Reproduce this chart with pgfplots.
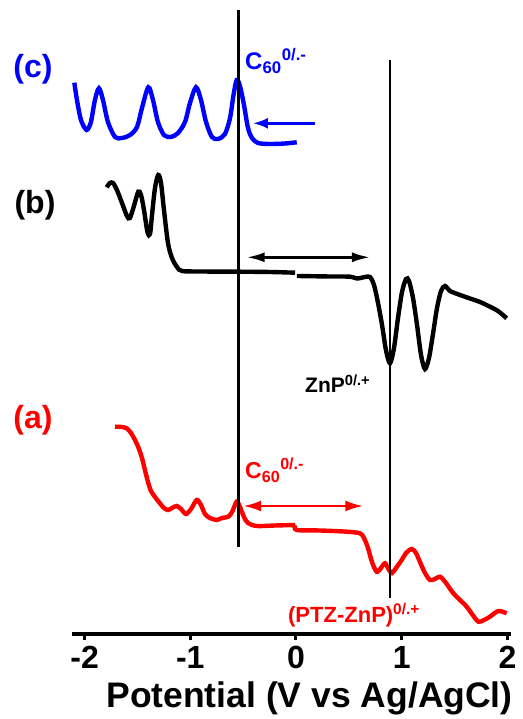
\documentclass[border=0pt]{standalone}
\usepackage{pgfplots}
\pgfplotsset{compat=1.18}
\usepackage{fontspec}
\setmainfont{Liberation Sans}
\usetikzlibrary{arrows.meta}
\definecolor{cblue}{RGB}{0,0,255}
\definecolor{cred}{RGB}{255,0,0}
\begin{document}
\begin{tikzpicture}
\useasboundingbox (-72pt,-85pt) rectangle (450pt,634pt);
\begin{axis}[
  at={(0pt,0pt)}, anchor=south west,
  width=439pt, height=634pt, scale only axis,
  xmin=-2.119, xmax=2.034, ymin=-634, ymax=0,
  axis x line*=bottom, axis y line=none,
  axis line style={line width=3pt},
  xtick={-2,-1,0,1,2}, xticklabels={-2,-1,0,1,2},
  tick align=outside, major tick length=6pt,
  xtick style={line width=3pt, black},
  xticklabel style={font=\fontsize{32}{34}\selectfont\bfseries, inner sep=0pt, yshift=-6pt},
  xlabel={Potential (V vs Ag/AgCl)},
  xlabel style={font=\fontsize{35.5}{38}\selectfont\bfseries, xshift=18pt, yshift=-13pt, inner sep=0pt},
  clip=false,
]
% (c)
\addplot[cblue, line width=4.4pt, smooth, tension=0.5] coordinates {
(-2.097,-82.7) (-2.072,-100) (-2.034,-120) (-1.981,-130) (-1.940,-122) (-1.902,-100)
(-1.864,-88.3) (-1.826,-100) (-1.779,-122) (-1.712,-137) (-1.646,-138) (-1.570,-135)
(-1.504,-127) (-1.457,-108) (-1.397,-87.3) (-1.353,-100) (-1.306,-122) (-1.249,-135)
(-1.183,-137) (-1.116,-133) (-1.050,-122) (-1.003,-103) (-0.946,-87.3) (-0.899,-100)
(-0.851,-122) (-0.795,-137) (-0.738,-139) (-0.672,-134) (-0.624,-118) (-0.591,-95)
(-0.561,-80) (-0.530,-86) (-0.492,-105) (-0.454,-128) (-0.416,-138) (-0.360,-143)
(-0.246,-144) (-0.104,-143.5) (0.007,-142.3)
};
% (b)
\addplot[black, line width=4.4pt, smooth, tension=0.5] coordinates {
(-1.791,-187.3) (-1.760,-183) (-1.731,-183) (-1.694,-190) (-1.646,-203) (-1.599,-216)
(-1.571,-218) (-1.533,-206) (-1.492,-191.7) (-1.466,-195) (-1.438,-210) (-1.405,-232)
(-1.381,-234) (-1.362,-215) (-1.334,-188) (-1.303,-175) (-1.277,-183) (-1.249,-210)
(-1.211,-243) (-1.173,-258) (-1.126,-267) (-1.079,-271) (-0.908,-271.5) (-0.530,-271.7)
(-0.246,-272) (-0.009,-272.7)
};
\addplot[black, line width=4.4pt, smooth, tension=0.5] coordinates {
(0.009,-276) (0.322,-276.5) (0.511,-276.7) (0.577,-278.5) (0.653,-277) (0.700,-277)
(0.738,-285) (0.776,-303) (0.814,-325) (0.851,-350) (0.889,-363.3) (0.927,-348)
(0.965,-318) (1.003,-292) (1.041,-279) (1.069,-281) (1.107,-298) (1.145,-325)
(1.183,-355) (1.220,-369) (1.258,-358) (1.296,-334) (1.334,-308) (1.372,-291)
(1.410,-286) (1.457,-291) (1.552,-295) (1.646,-298.5) (1.741,-302) (1.835,-306.7)
(1.911,-311) (1.993,-318.3)
};
% (a)
\addplot[cred, line width=4.4pt, smooth, tension=0.5] coordinates {
(-1.712,-426.7) (-1.646,-427) (-1.599,-428.5) (-1.561,-433) (-1.523,-440) (-1.485,-449)
(-1.457,-458) (-1.429,-470) (-1.400,-482) (-1.372,-491) (-1.334,-497) (-1.287,-503.3)
(-1.249,-508) (-1.211,-510) (-1.173,-508) (-1.129,-506) (-1.088,-509) (-1.041,-514)
(-0.993,-509) (-0.939,-500) (-0.899,-505) (-0.861,-514) (-0.814,-518) (-0.750,-520)
(-0.700,-518) (-0.640,-516.7) (-0.605,-512) (-0.561,-501.7) (-0.530,-507) (-0.492,-517)
(-0.454,-523) (-0.372,-526) (-0.199,-525.5) (-0.009,-525)
};
\addplot[cred, line width=4.4pt, smooth, tension=0.5] coordinates {
(-0.009,-525) (0.007,-530) (0.227,-530.5) (0.480,-531.7) (0.605,-533.3) (0.643,-538)
(0.681,-548) (0.719,-562) (0.763,-571.7) (0.804,-568) (0.842,-563.3) (0.880,-570)
(0.908,-573) (0.946,-568) (1.000,-560) (1.041,-553) (1.095,-549) (1.135,-553)
(1.173,-562) (1.220,-573) (1.268,-580) (1.315,-579) (1.362,-576.7) (1.419,-583)
(1.488,-593.3) (1.552,-600) (1.615,-606.7) (1.665,-614) (1.725,-621.7) (1.779,-620)
(1.835,-616.7) (1.914,-611) (1.993,-613.3)
};
% vertical lines
\draw[black, line width=2.8pt] (axis cs:-0.547,-10) -- (axis cs:-0.547,-547);
\draw[black, line width=2.8pt] (axis cs:0.889,-60) -- (axis cs:0.889,-598);
% arrows
\draw[cblue, line width=2.6pt, -{Latex[length=15pt,width=11pt]}] (axis cs:0.180,-123.3) -- (axis cs:-0.407,-123.3);
\draw[black, line width=2.6pt, {Latex[length=18pt,width=10pt]}-{Latex[length=18pt,width=10pt]}] (axis cs:-0.466,-257.3) -- (axis cs:0.700,-257.3);
\draw[cred, line width=2.6pt, {Latex[length=18pt,width=11pt]}-{Latex[length=18pt,width=11pt]}] (axis cs:-0.499,-506) -- (axis cs:0.637,-506);
% labels
\node[cblue, font=\fontsize{32}{34}\selectfont\bfseries] at (axis cs:-2.488,-69) {(c)};
\node[black, font=\fontsize{32}{34}\selectfont\bfseries] at (axis cs:-2.469,-205) {(b)};
\node[cred, font=\fontsize{32}{34}\selectfont\bfseries] at (axis cs:-2.488,-420) {(a)};
\node[cblue, anchor=base west, inner sep=0pt, font=\fontsize{24}{26}\selectfont\bfseries] at (axis cs:-0.482,-70) {C\textsubscript{60}\textsuperscript{0/.-}};
\node[black, anchor=base west, inner sep=0pt, font=\fontsize{21}{24}\selectfont\bfseries] at (axis cs:0.085,-393) {ZnP\textsuperscript{0/.+}};
\node[cred, anchor=base west, inner sep=0pt, font=\fontsize{23}{25}\selectfont\bfseries] at (axis cs:-0.482,-479) {C\textsubscript{60}\textsuperscript{0/.-}};
\node[cred, anchor=base west, inner sep=0pt, font=\fontsize{22}{24}\selectfont\bfseries] at (axis cs:-0.076,-622) {(PTZ-ZnP)\textsuperscript{0/.+}};
\end{axis}
\end{tikzpicture}
\end{document}
